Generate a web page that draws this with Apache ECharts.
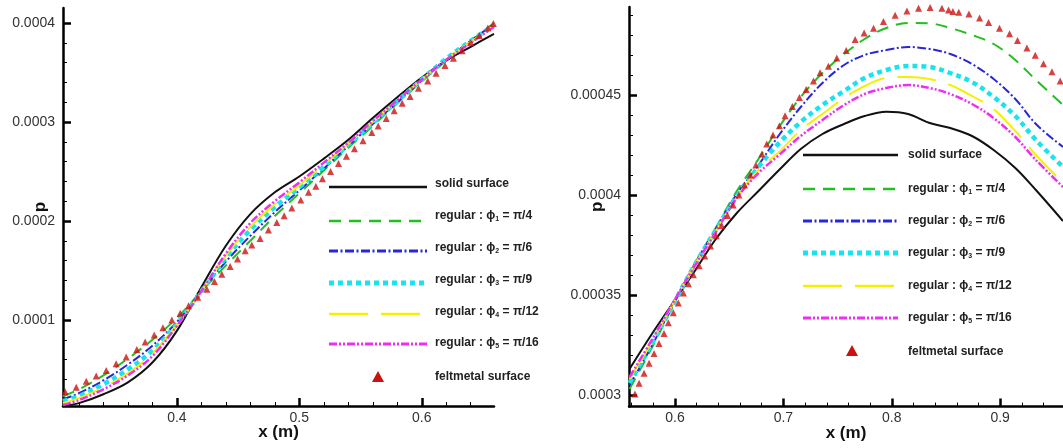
<!DOCTYPE html>
<html><head><meta charset="utf-8">
<script src="https://cdn.jsdelivr.net/npm/echarts@6/dist/echarts.min.js"></script>
<style>html,body{margin:0;padding:0;background:#fff}#c{width:1063px;height:448px}</style>
</head><body><div id="c"></div><script>
const FONT = '"Liberation Sans", Arial, sans-serif';

// ---------- series names ----------
const NAMES = ['solid surface', 'regular : ϕ1 = π/4', 'regular : ϕ2 = π/6', 'regular : ϕ3 = π/9',
  'regular : ϕ4 = π/12', 'regular : ϕ5 = π/16', 'feltmetal surface'];
const SUBS = ['1', '2', '3', '4', '5'];
const RATIOS = ['π/4', 'π/6', 'π/9', 'π/12', 'π/16'];

// ---------- tick labels ----------
const LX_TICKS = [0.4, 0.5, 0.6];
const LY_TICKS = [0.0001, 0.0002, 0.0003, 0.0004];
const RX_TICKS = [0.6, 0.7, 0.8, 0.9];
const RY_TICKS = [0.0003, 0.00035, 0.0004, 0.00045];

// ---------- left panel data ----------
const LX = [0.307, 0.32, 0.34, 0.36, 0.38, 0.40, 0.42, 0.44, 0.46, 0.48, 0.50, 0.52, 0.54, 0.56, 0.58, 0.60, 0.62, 0.64, 0.659];
const L_SOLID = [0.13e-4, 0.16e-4, 0.25e-4, 0.37e-4, 0.57e-4, 0.89e-4, 1.33e-4, 1.75e-4, 2.07e-4, 2.29e-4, 2.45e-4, 2.63e-4, 2.82e-4, 3.04e-4, 3.25e-4, 3.45e-4, 3.62e-4, 3.76e-4, 3.89e-4];
const L_PHI1 = [0.23e-4, 0.30e-4, 0.44e-4, 0.61e-4, 0.80e-4, 1.02e-4, 1.29e-4, 1.55e-4, 1.80e-4, 2.05e-4, 2.28e-4, 2.51e-4, 2.74e-4, 2.96e-4, 3.19e-4, 3.41e-4, 3.62e-4, 3.82e-4, 4.00e-4];
const L_PHI2 = [0.20e-4, 0.26e-4, 0.39e-4, 0.55e-4, 0.74e-4, 0.98e-4, 1.29e-4, 1.59e-4, 1.85e-4, 2.09e-4, 2.31e-4, 2.53e-4, 2.76e-4, 2.98e-4, 3.20e-4, 3.42e-4, 3.63e-4, 3.82e-4, 3.99e-4];
const L_PHI3 = [0.18e-4, 0.23e-4, 0.35e-4, 0.50e-4, 0.69e-4, 0.96e-4, 1.29e-4, 1.63e-4, 1.91e-4, 2.14e-4, 2.34e-4, 2.55e-4, 2.77e-4, 2.99e-4, 3.21e-4, 3.43e-4, 3.64e-4, 3.82e-4, 3.98e-4];
const L_PHI4 = [0.16e-4, 0.21e-4, 0.32e-4, 0.46e-4, 0.66e-4, 0.95e-4, 1.29e-4, 1.65e-4, 1.94e-4, 2.17e-4, 2.36e-4, 2.57e-4, 2.78e-4, 3.00e-4, 3.22e-4, 3.43e-4, 3.63e-4, 3.81e-4, 3.97e-4];
const L_PHI5 = [0.14e-4, 0.19e-4, 0.30e-4, 0.44e-4, 0.635e-4, 0.94e-4, 1.29e-4, 1.67e-4, 1.98e-4, 2.20e-4, 2.39e-4, 2.59e-4, 2.79e-4, 3.01e-4, 3.22e-4, 3.43e-4, 3.63e-4, 3.80e-4, 3.96e-4];
const L_FELT_X = [0.3088, 0.3178, 0.3260, 0.3341, 0.3423, 0.3504, 0.3586, 0.3673, 0.3741, 0.3815, 0.3886, 0.3959, 0.4027, 0.4095, 0.4170, 0.4245, 0.4307, 0.4367, 0.4435, 0.4495, 0.4558, 0.4612, 0.4680, 0.4748, 0.4816, 0.4876, 0.4939, 0.5012, 0.5075, 0.5135, 0.5189, 0.5255, 0.5320, 0.5385, 0.5450, 0.5520, 0.5592, 0.5644, 0.5710, 0.5775, 0.5840, 0.5905, 0.5973, 0.6049, 0.6117, 0.6190, 0.6259, 0.6330, 0.6400, 0.6470, 0.6540, 0.6585];
const L_FELT_Y = [0.274e-4, 0.321e-4, 0.382e-4, 0.433e-4, 0.490e-4, 0.557e-4, 0.625e-4, 0.703e-4, 0.777e-4, 0.848e-4, 0.922e-4, 1.000e-4, 1.068e-4, 1.145e-4, 1.230e-4, 1.311e-4, 1.389e-4, 1.463e-4, 1.540e-4, 1.615e-4, 1.699e-4, 1.757e-4, 1.824e-4, 1.909e-4, 1.986e-4, 2.054e-4, 2.132e-4, 2.213e-4, 2.290e-4, 2.351e-4, 2.426e-4, 2.500e-4, 2.580e-4, 2.655e-4, 2.730e-4, 2.810e-4, 2.895e-4, 2.960e-4, 3.035e-4, 3.115e-4, 3.190e-4, 3.257e-4, 3.341e-4, 3.415e-4, 3.493e-4, 3.571e-4, 3.645e-4, 3.720e-4, 3.800e-4, 3.875e-4, 3.950e-4, 3.995e-4];

// ---------- right panel data ----------
const RX = [0.558, 0.578, 0.598, 0.617, 0.637, 0.657, 0.677, 0.696, 0.716, 0.736, 0.756, 0.775, 0.795, 0.815, 0.835, 0.854, 0.874, 0.894, 0.914, 0.933, 0.958];
const R_SOLID = [31.3e-5, 33.0e-5, 34.6e-5, 36.1e-5, 37.75e-5, 39.1e-5, 40.2e-5, 41.25e-5, 42.3e-5, 43.05e-5, 43.55e-5, 43.95e-5, 44.16e-5, 44.05e-5, 43.6e-5, 43.35e-5, 42.95e-5, 42.25e-5, 41.35e-5, 40.25e-5, 38.7e-5];
const R_PHI1 = [30.3e-5, 32.3e-5, 34.45e-5, 36.45e-5, 38.3e-5, 40.2e-5, 41.8e-5, 43.4e-5, 44.9e-5, 46.1e-5, 47.05e-5, 47.8e-5, 48.35e-5, 48.6e-5, 48.58e-5, 48.35e-5, 48.0e-5, 47.55e-5, 46.75e-5, 45.75e-5, 44.5e-5];
const R_PHI2 = [30.5e-5, 32.4e-5, 34.5e-5, 36.45e-5, 38.25e-5, 40.05e-5, 41.5e-5, 43.0e-5, 44.4e-5, 45.6e-5, 46.5e-5, 47.0e-5, 47.25e-5, 47.4e-5, 47.3e-5, 47.05e-5, 46.55e-5, 45.8e-5, 44.8e-5, 43.55e-5, 42.4e-5];
const R_PHI3 = [30.6e-5, 32.5e-5, 34.5e-5, 36.4e-5, 38.2e-5, 39.95e-5, 41.4e-5, 42.6e-5, 43.65e-5, 44.5e-5, 45.2e-5, 45.85e-5, 46.25e-5, 46.45e-5, 46.4e-5, 46.1e-5, 45.65e-5, 44.9e-5, 43.95e-5, 42.75e-5, 41.4e-5];
const R_PHI4 = [30.8e-5, 32.6e-5, 34.55e-5, 36.4e-5, 38.15e-5, 39.9e-5, 41.25e-5, 42.15e-5, 43.25e-5, 44.05e-5, 44.85e-5, 45.45e-5, 45.85e-5, 45.9e-5, 45.8e-5, 45.5e-5, 44.95e-5, 44.3e-5, 43.2e-5, 42.0e-5, 40.6e-5];
const R_PHI5 = [30.9e-5, 32.7e-5, 34.6e-5, 36.35e-5, 38.1e-5, 39.85e-5, 41.1e-5, 42.0e-5, 42.95e-5, 43.75e-5, 44.5e-5, 45.05e-5, 45.35e-5, 45.5e-5, 45.35e-5, 45.05e-5, 44.55e-5, 43.85e-5, 42.9e-5, 41.75e-5, 40.4e-5];
const R_FELT_X = [0.5630, 0.5668, 0.5714, 0.5760, 0.5806, 0.5852, 0.5898, 0.5938, 0.5984, 0.6030, 0.6077, 0.6123, 0.6169, 0.6222, 0.6274, 0.6327, 0.6379, 0.6431, 0.6484, 0.6536, 0.6589, 0.6641, 0.6693, 0.6746, 0.6801, 0.6846, 0.6904, 0.6963, 0.7015, 0.7082, 0.7148, 0.7210, 0.7277, 0.7338, 0.7415, 0.7493, 0.7579, 0.7662, 0.7745, 0.7832, 0.7923, 0.8031, 0.8140, 0.8247, 0.8354, 0.8463, 0.8524, 0.8564, 0.8618, 0.8712, 0.8810, 0.8893, 0.8994, 0.9087, 0.9160, 0.9247, 0.9324, 0.9400, 0.9478, 0.9554];
const R_FELT_Y = [30.05e-5, 30.59e-5, 31.09e-5, 31.59e-5, 32.07e-5, 32.58e-5, 33.08e-5, 33.61e-5, 34.11e-5, 34.60e-5, 35.10e-5, 35.56e-5, 36.01e-5, 36.46e-5, 36.95e-5, 37.45e-5, 37.96e-5, 38.47e-5, 38.98e-5, 39.50e-5, 40.00e-5, 40.50e-5, 41.00e-5, 41.50e-5, 42.05e-5, 42.55e-5, 43.00e-5, 43.46e-5, 43.96e-5, 44.43e-5, 44.87e-5, 45.28e-5, 45.70e-5, 46.11e-5, 46.44e-5, 46.85e-5, 47.22e-5, 47.77e-5, 48.10e-5, 48.34e-5, 48.68e-5, 48.99e-5, 49.20e-5, 49.34e-5, 49.37e-5, 49.34e-5, 49.25e-5, 49.17e-5, 49.14e-5, 49.05e-5, 48.85e-5, 48.62e-5, 48.34e-5, 48.06e-5, 47.73e-5, 47.35e-5, 46.99e-5, 46.56e-5, 46.16e-5, 45.70e-5];

// ---------- styles ----------
const COLORS = ['#111111', '#22bf22', '#2828d8', '#18e4ee', '#f2f200', '#f02ef0', '#cc1111'];
const DASH = [null, [12, 8], [9, 2.5, 2, 2.5], [5, 4], [39, 13], [8, 2, 2, 2, 2, 2]];
const LINE_W = [2, 2, 2, 4.5, 2, 2.5];
const LEG_W = [2.5, 2.5, 3, 5, 2.5, 3];

const zip = (xs, ys) => xs.map((x, i) => [x, ys[i]]);
const L_LINES = [L_SOLID, L_PHI1, L_PHI2, L_PHI3, L_PHI4, L_PHI5];
const R_LINES = [R_SOLID, R_PHI1, R_PHI2, R_PHI3, R_PHI4, R_PHI5];

const fmt = v => String(parseFloat((+v).toPrecision(6)));

function axis(gi, min, max, ticks, split, name, isY, nameGap) {
  return {
    type: 'value', gridIndex: gi, min, max, splitNumber: split,
    name, nameLocation: 'middle', nameGap, nameRotate: isY ? 90 : 0, nameMoveOverlap: false,
    nameTextStyle: { fontFamily: FONT, fontWeight: 'bold', fontSize: 17, color: '#111' },
    splitLine: { show: false },
    axisLine: { show: true, onZero: false, lineStyle: { color: '#000', width: 2.5 } },
    axisTick: { show: true, inside: true, length: 8, customValues: ticks, lineStyle: { color: '#000', width: 2.5 } },
    minorTick: { show: true, splitNumber: 5, length: 4, lineStyle: { color: '#000', width: 1 } },
    axisLabel: { customValues: ticks, formatter: fmt,
      fontFamily: FONT, fontSize: 14, color: '#333', margin: isY ? 8 : 5 }
  };
}

const series = [];
[[L_LINES, LX, 0, L_FELT_X, L_FELT_Y], [R_LINES, RX, 1, R_FELT_X, R_FELT_Y]].forEach(([lines, xs, idx, fx, fy]) => {
  lines.forEach((ys, i) => {
    series.push({
      type: 'line', name: NAMES[i], xAxisIndex: idx, yAxisIndex: idx, data: zip(xs, ys),
      symbol: 'none', smooth: 0.35, clip: false,
      lineStyle: { color: COLORS[i], width: LINE_W[i], type: DASH[i] || 'solid', cap: 'butt' }
    });
  });
  series.push({
    type: 'scatter', name: NAMES[6], xAxisIndex: idx, yAxisIndex: idx, data: zip(fx, fy),
    symbol: 'triangle', symbolSize: 7, clip: false, itemStyle: { color: COLORS[6] }, z: 5
  });
});

// ---------- legends drawn as graphics ----------
const RICH = {
  t: { fontFamily: FONT, fontWeight: 'bold', fontSize: 12, fill: '#222', color: '#222', lineHeight: 14 },
  s: { fontFamily: FONT, fontWeight: 'bold', fontSize: 7, fill: '#222', color: '#222', lineHeight: 7, verticalAlign: 'bottom' }
};
function legendText(i) {
  if (i === 0) return '{t|' + NAMES[0] + '}';
  if (i === 6) return '{t|' + NAMES[6] + '}';
  return '{t|regular : ϕ}{s|' + SUBS[i - 1] + '}{t| = ' + RATIOS[i - 1] + '}';
}
function legend(x1, x2, tx, rows, textRows, triX, triY) {
  const els = [];
  for (let i = 0; i < 6; i++) {
    els.push({ type: 'line', silent: true, shape: { x1, y1: rows[i], x2, y2: rows[i] },
      style: { stroke: COLORS[i], lineWidth: LEG_W[i], lineDash: DASH[i] || null, lineCap: 'butt' } });
  }
  for (let i = 0; i < 7; i++) {
    els.push({ type: 'text', silent: true, x: tx, y: textRows[i],
      style: { text: legendText(i), rich: RICH, align: 'left', verticalAlign: 'middle' } });
  }
  els.push({ type: 'polygon', silent: true,
    shape: { points: [[triX - 6, triY + 5], [triX + 6, triY + 5], [triX, triY - 6]] },
    style: { fill: COLORS[6] } });
  return els;
}

const option = {
  animation: false,
  backgroundColor: '#fff',
  grid: [
    { left: 63, right: 569, top: 8, bottom: 42, outerBoundsMode: 'none', containLabel: false },
    { left: 629, right: 0, top: 7, bottom: 41.4, outerBoundsMode: 'none', containLabel: false }
  ],
  xAxis: [
    axis(0, 0.307, 0.659, LX_TICKS, 4, 'x (m)', false, 18),
    axis(1, 0.5575, 0.958, RX_TICKS, 4, 'x (m)', false, 18)
  ],
  yAxis: [
    axis(0, 0.0000131, 0.0004152, LY_TICKS, 4, 'p', true, 14),
    axis(1, 0.0002942, 0.000494, RY_TICKS, 4, 'p', true, 23)
  ],
  series,
  graphic: [
    ...legend(329, 427, 435, [187, 221, 251, 283, 314, 344], [184, 216, 248, 280, 312, 343, 377], 378, 377),
    ...legend(803, 898, 908, [155, 189, 221, 253, 286, 318], [155, 189, 221, 253, 286, 318, 352], 852, 351)
  ]
};

const chart = echarts.init(document.getElementById('c'), null, { renderer: 'canvas' });
chart.setOption(option);
</script></body></html>
